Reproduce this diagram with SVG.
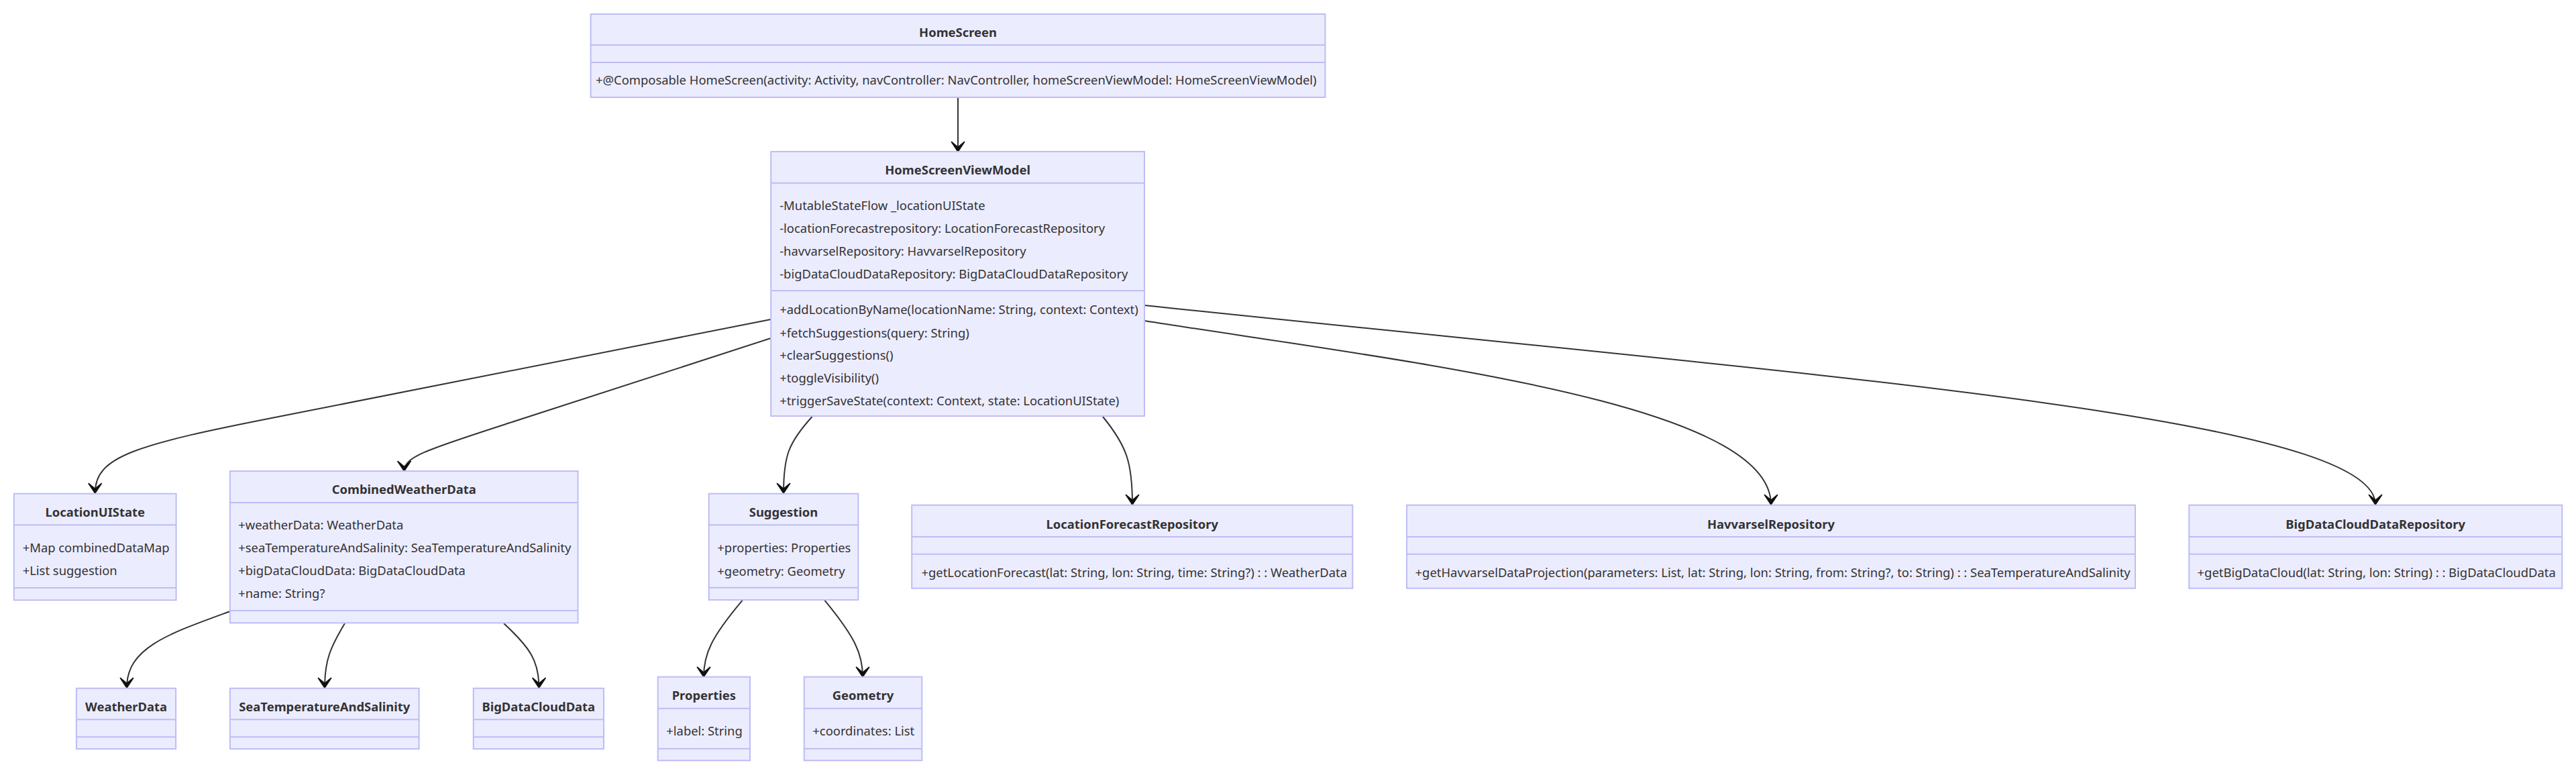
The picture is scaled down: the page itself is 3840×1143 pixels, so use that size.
<svg xmlns="http://www.w3.org/2000/svg" width="3840" height="1143" viewBox="0 0 3840 1143">
<style>
.box{fill:#ECECFF;stroke:#BDBDF6;stroke-width:2}
.dv{stroke:#BDBDF6;stroke-width:2}
.t{font-family:"Noto Sans","Liberation Sans",sans-serif;font-size:18.4px;fill:#333;dominant-baseline:central}
.b{font-weight:bold;text-anchor:middle}
.edge{fill:none;stroke:#333;stroke-width:2;marker-end:url(#arr)}
</style>
<defs>
<marker id="arr" markerUnits="userSpaceOnUse" viewBox="0 0 20 14" markerWidth="33" markerHeight="23.1" refX="18" refY="7" orient="auto">
<path d="M18,7 L9,13 L14,7 L9,1 Z" fill="#111" stroke="#111" stroke-width="1"/>
</marker>
</defs>
<rect width="3840" height="1143" fill="#fff"/>
<g id="edges">
<path class="edge" d="M1428,145 L1428,226"/>
<path class="edge" d="M1149,476 L420,620 C200,663 141.7,680 141.7,735"/>
<path class="edge" d="M1149,504 L760,630 C640,669 602.5,680 602.5,702"/>
<path class="edge" d="M1210.6,621 C1175,660 1168,680 1168,735"/>
<path class="edge" d="M1644,621 C1680,665 1688,690 1688,752"/>
<path class="edge" d="M1706,478 C2100,540 2640,600 2640,752"/>
<path class="edge" d="M1706,455 C2700,560 3541,620 3541,752"/>
<path class="edge" d="M343,911 C250,945 189,965 189,1025"/>
<path class="edge" d="M514,929 C492,965 484,985 484,1025"/>
<path class="edge" d="M751,929 C790,965 803.5,985 803.5,1025"/>
<path class="edge" d="M1106.7,894.7 C1060,950 1049,975 1049,1008.7"/>
<path class="edge" d="M1229.3,894.7 C1275,950 1286,975 1286,1008.7"/>
</g>
<g id="HomeScreen">
<rect class="box" x="880.6" y="21" width="1094.8" height="124"/>
<line class="dv" x1="880.6" y1="67" x2="1975.4" y2="67"/>
<line class="dv" x1="880.6" y1="93" x2="1975.4" y2="93"/>
<text class="t b" x="1428" y="47">HomeScreen</text>
<text class="t" x="888" y="118">+@Composable HomeScreen(activity: Activity, navController: NavController, homeScreenViewModel: HomeScreenViewModel)</text>
</g>
<g id="HomeScreenViewModel">
<rect class="box" x="1149.2" y="226" width="556.8" height="394"/>
<line class="dv" x1="1149.2" y1="272.7" x2="1706" y2="272.7"/>
<line class="dv" x1="1149.2" y1="433.3" x2="1706" y2="433.3"/>
<text class="t b" x="1427.6" y="252.3">HomeScreenViewModel</text>
<text class="t" x="1162.2" y="305">-MutableStateFlow _locationUIState</text>
<text class="t" x="1162.2" y="339.3">-locationForecastrepository: LocationForecastRepository</text>
<text class="t" x="1162.2" y="373.3">-havvarselRepository: HavvarselRepository</text>
<text class="t" x="1162.2" y="407.3">-bigDataCloudDataRepository: BigDataCloudDataRepository</text>
<text class="t" x="1162.2" y="460">+addLocationByName(locationName: String, context: Context)</text>
<text class="t" x="1162.2" y="495">+fetchSuggestions(query: String)</text>
<text class="t" x="1162.2" y="528.3">+clearSuggestions()</text>
<text class="t" x="1162.2" y="562.3">+toggleVisibility()</text>
<text class="t" x="1162.2" y="596.7">+triggerSaveState(context: Context, state: LocationUIState)</text>
</g>
<g id="LocationUIState">
<rect class="box" x="20.8" y="735.7" width="241.8" height="158.6"/>
<line class="dv" x1="20.8" y1="782.3" x2="262.6" y2="782.3"/>
<line class="dv" x1="20.8" y1="876" x2="262.6" y2="876"/>
<text class="t b" x="141.7" y="762.3">LocationUIState</text>
<text class="t" x="33.7" y="815.7">+Map combinedDataMap</text>
<text class="t" x="33.7" y="849.3">+List suggestion</text>
</g>
<g id="CombinedWeatherData">
<rect class="box" x="342.9" y="702" width="518.6" height="226.3"/>
<line class="dv" x1="342.9" y1="749" x2="861.5" y2="749"/>
<line class="dv" x1="342.9" y1="910" x2="861.5" y2="910"/>
<text class="t b" x="602.2" y="728.3">CombinedWeatherData</text>
<text class="t" x="355.2" y="781.7">+weatherData: WeatherData</text>
<text class="t" x="355.2" y="815.7">+seaTemperatureAndSalinity: SeaTemperatureAndSalinity</text>
<text class="t" x="355.2" y="849.3">+bigDataCloudData: BigDataCloudData</text>
<text class="t" x="355.2" y="883.3">+name: String?</text>
</g>
<g id="Suggestion">
<rect class="box" x="1056.7" y="735.7" width="222.6" height="158.3"/>
<line class="dv" x1="1056.7" y1="782.3" x2="1279.3" y2="782.3"/>
<line class="dv" x1="1056.7" y1="875.7" x2="1279.3" y2="875.7"/>
<text class="t b" x="1168" y="762.3">Suggestion</text>
<text class="t" x="1069.3" y="815.7">+properties: Properties</text>
<text class="t" x="1069.3" y="850">+geometry: Geometry</text>
</g>
<g id="LocationForecastRepository">
<rect class="box" x="1359.2" y="752.7" width="657.1" height="124"/>
<line class="dv" x1="1359.2" y1="800" x2="2016.3" y2="800"/>
<line class="dv" x1="1359.2" y1="825.7" x2="2016.3" y2="825.7"/>
<text class="t b" x="1687.8" y="780">LocationForecastRepository</text>
<text class="t" x="1373.5" y="852.7">+getLocationForecast(lat: String, lon: String, time: String?) : : WeatherData</text>
</g>
<g id="HavvarselRepository">
<rect class="box" x="2097" y="752.7" width="1086" height="124"/>
<line class="dv" x1="2097" y1="800" x2="3183" y2="800"/>
<line class="dv" x1="2097" y1="825.7" x2="3183" y2="825.7"/>
<text class="t b" x="2640" y="780">HavvarselRepository</text>
<text class="t" x="2109.6" y="852.7">+getHavvarselDataProjection(parameters: List, lat: String, lon: String, from: String?, to: String) : : SeaTemperatureAndSalinity</text>
</g>
<g id="BigDataCloudDataRepository">
<rect class="box" x="3263.2" y="752.7" width="556.1" height="124"/>
<line class="dv" x1="3263.2" y1="800" x2="3819.3" y2="800"/>
<line class="dv" x1="3263.2" y1="825.7" x2="3819.3" y2="825.7"/>
<text class="t b" x="3541.2" y="780">BigDataCloudDataRepository</text>
<text class="t" x="3275.6" y="852.7">+getBigDataCloud(lat: String, lon: String) : : BigDataCloudData</text>
</g>
<g id="WeatherData">
<rect class="box" x="113.9" y="1025.7" width="148.2" height="90.3"/>
<line class="dv" x1="113.9" y1="1072.3" x2="262.1" y2="1072.3"/>
<line class="dv" x1="113.9" y1="1098.3" x2="262.1" y2="1098.3"/>
<text class="t b" x="188" y="1052.3">WeatherData</text>
</g>
<g id="SeaTemperatureAndSalinity">
<rect class="box" x="342.9" y="1025.7" width="281.7" height="90.3"/>
<line class="dv" x1="342.9" y1="1072.3" x2="624.6" y2="1072.3"/>
<line class="dv" x1="342.9" y1="1098.3" x2="624.6" y2="1098.3"/>
<text class="t b" x="483.7" y="1052.3">SeaTemperatureAndSalinity</text>
</g>
<g id="BigDataCloudData">
<rect class="box" x="705.7" y="1025.7" width="194.3" height="90.3"/>
<line class="dv" x1="705.7" y1="1072.3" x2="900" y2="1072.3"/>
<line class="dv" x1="705.7" y1="1098.3" x2="900" y2="1098.3"/>
<text class="t b" x="802.8" y="1052.3">BigDataCloudData</text>
</g>
<g id="Properties">
<rect class="box" x="980.7" y="1008.7" width="137.3" height="124.6"/>
<line class="dv" x1="980.7" y1="1055.7" x2="1118" y2="1055.7"/>
<line class="dv" x1="980.7" y1="1115.7" x2="1118" y2="1115.7"/>
<text class="t b" x="1049.3" y="1035">Properties</text>
<text class="t" x="993.3" y="1088.3">+label: String</text>
</g>
<g id="Geometry">
<rect class="box" x="1198.7" y="1008.7" width="175.6" height="124.6"/>
<line class="dv" x1="1198.7" y1="1055.7" x2="1374.3" y2="1055.7"/>
<line class="dv" x1="1198.7" y1="1115.7" x2="1374.3" y2="1115.7"/>
<text class="t b" x="1286.5" y="1035">Geometry</text>
<text class="t" x="1211.3" y="1088.3">+coordinates: List</text>
</g>
</svg>
